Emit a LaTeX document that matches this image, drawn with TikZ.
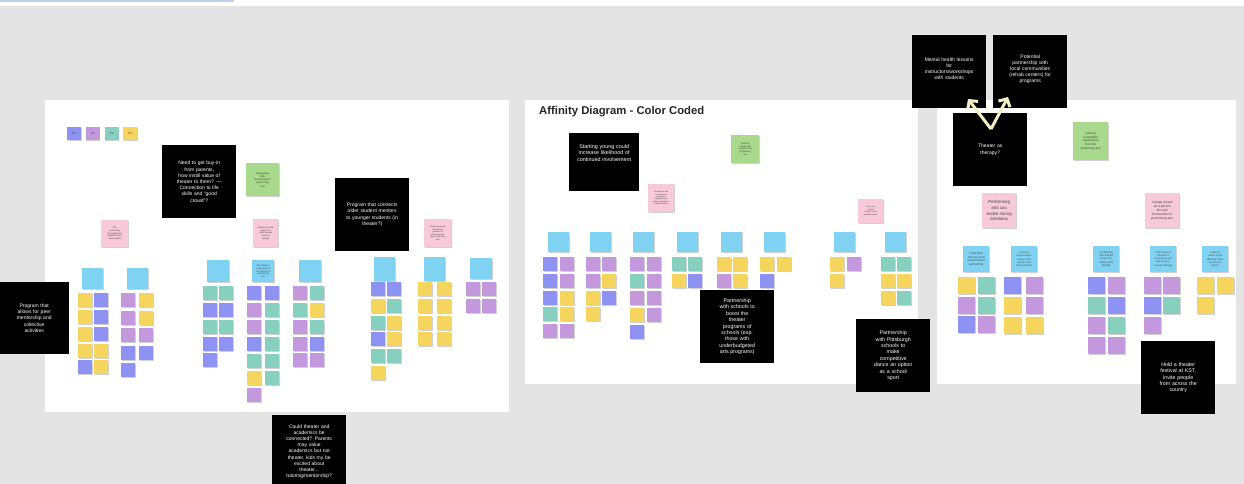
\documentclass[tikz,border=0pt]{standalone}
\usepackage{fontspec}
\setmainfont{Liberation Sans}
\usetikzlibrary{arrows.meta,shadows}
\definecolor{bg}{HTML}{E4E4E4}
\definecolor{topbar}{HTML}{BFD0F2}
\definecolor{cB}{HTML}{8E93F3}
\definecolor{cP}{HTML}{C398DC}
\definecolor{cT}{HTML}{87D0C0}
\definecolor{cY}{HTML}{F5D55E}
\definecolor{cH}{HTML}{80D2F2}
\definecolor{cK}{HTML}{F8C9D9}
\definecolor{cG}{HTML}{A8D98C}
\definecolor{cream}{HTML}{F4EFC4}
\tikzset{
  blk/.style={fill=black, text=white, anchor=north west, inner sep=2pt, align=center,
    minimum width=74pt, minimum height=73pt, text width=66pt,
    font=\fontsize{5}{6.2}\selectfont},
  stk/.style={anchor=north west, inner sep=0pt, draw=none,
    drop shadow={shadow xshift=0.4pt, shadow yshift=-1pt, opacity=0.18, fill=black}},
  hdr/.style={stk, fill=cH, align=center, text=black!70, font=\fontsize{2.4}{2.9}\selectfont},
  note/.style={stk, align=center, text=black!75, font=\fontsize{2.6}{3.2}\selectfont},
  arr/.style={draw=cream, line width=3pt, -{Straight Barb[length=6pt,width=13pt]}},
}
\newcommand\stcol[6][14]{%
  \foreach \cc [count=\ii] in {#6} {%
    \node[stk, minimum width=#1pt, minimum height=#1pt, fill=c\cc] (#2-\ii) at (#3,{#4+(\ii-1)*#5}) {};}}
\begin{document}
\begin{tikzpicture}[x=1pt,y=-1pt]
\useasboundingbox (0,0) rectangle (1244,484);
\fill[bg] (0,0) rectangle (1244,484);
\fill[white] (0,0) rectangle (1244,6);
\fill[topbar] (0,0) rectangle (234,2);
% panels
\fill[white] (45,100) rectangle (509,412);
\fill[white] (525,100) rectangle (918,384);
\fill[white] (937,100) rectangle (1236,384);

% legend
\foreach \cc/\t [count=\ii] in {B/P1,P/P2,T/P3,Y/P4}
  \node[note, fill=c\cc, minimum width=14pt, minimum height=13pt, font=\fontsize{3}{3.5}\selectfont] (leg\ii) at ({67+(\ii-1)*18.7},127) {\t};

% ---------- left panel ----------
\node[note, fill=cG, minimum width=33pt, minimum height=33pt] (gL) at (246,163) {Supporting\\kids\\involvement in\\performing\\arts};
\node[note, fill=cK, minimum width=27pt, minimum height=27pt, font=\fontsize{2.2}{2.7}\selectfont] (pkA) at (101,220) {The\\performing\\arts helped me\\establish many\\relationships};
\node[note, fill=cK, minimum width=25pt, minimum height=28pt, font=\fontsize{2.2}{2.7}\selectfont] (pkD) at (253,219) {Depends on the\\support of\\many people\\over my\\journey};
\node[note, fill=cK, minimum width=27pt, minimum height=28pt, font=\fontsize{2}{2.5}\selectfont] (pkG) at (424,219) {I think that people\\in leadership\\positions in\\performing arts\\play an important\\role};

\node[hdr, minimum width=21pt, minimum height=21pt] (hA) at (82,268) {};
\stcol{a1}{78}{293}{16.8}{Y,Y,Y,Y,B}
\stcol{a2}{94}{293}{16.8}{B,B,B,Y,Y}
\node[hdr, minimum width=21pt, minimum height=21pt] (hB) at (127,268) {};
\stcol{b1}{121}{293}{17.5}{P,P,P,B,B}
\stcol{b2}{139}{293}{17.5}{Y,Y,P,B}
\node[hdr, minimum width=22pt, minimum height=22pt] (hC) at (207,260) {};
\stcol{c1}{203}{286}{16.8}{T,B,T,B,B}
\stcol{c2}{219}{286}{16.8}{T,B,T,B}
\node[hdr, minimum width=22pt, minimum height=22pt] (hD) at (252,260) {My family is\\supportive of\\my interest in\\performing\\arts};
\stcol{d1}{247}{286}{17}{B,P,P,B,T,Y,P}
\stcol{d2}{265}{286}{17}{B,T,T,T,T,T}
\node[hdr, minimum width=22pt, minimum height=22pt] (hE) at (299,260) {};
\stcol{e1}{293}{286}{16.8}{P,T,P,P,P}
\stcol{e2}{310}{286}{16.8}{T,Y,T,B,P}
\node[hdr, minimum width=21pt, minimum height=24pt] (hF) at (374,257) {};
\stcol{f1}{371}{282}{16.7}{B,Y,T,B,T,Y}
\stcol{f2}{387}{282}{16.7}{B,T,Y,Y,T}
\node[hdr, minimum width=21pt, minimum height=24pt] (hG) at (424,257) {};
\stcol{g1}{418}{282}{16.7}{Y,Y,Y,Y}
\stcol{g2}{437}{282}{16.7}{Y,Y,Y,Y}
\node[hdr, minimum width=22pt, minimum height=21pt] (hH) at (470,258) {};
\stcol{h1}{466}{282}{16.7}{P,P}
\stcol{h2}{482}{282}{16.7}{P,P}

\node[blk] (buyin) at (162,145) {Need to get buy-in\\from parents,\\how instill value of\\theater to them? —\\Connection to life\\skills and “good\\crowd”?};
\node[blk] (olderm) at (335,178) {Program that connects\\older student mentors\\to younger students (in\\theater?)};
\node[blk, minimum width=70pt, minimum height=72pt] (peer) at (-1,282) {Program that\\allows for peer\\mentorship and\\collective\\activities};
\node[blk] (acad) at (272,415) {Could theater and\\academics be\\connected? Parents\\may value\\academics but not\\theater, kids my be\\excited about\\theater...\\tutoring/mentorship?};

% ---------- middle panel ----------
\node[anchor=west, font=\fontsize{11.3}{13}\selectfont\bfseries, text=black!85, inner sep=0pt] (title) at (539,112) {Affinity Diagram - Color Coded};
\node[blk, minimum width=64pt, minimum height=58pt, font=\fontsize{5.4}{6.3}\selectfont] (young) at (569,133) {Starting young could\\increase likelihood of\\continued involvement\\~\\~\\~};
\node[note, fill=cG, minimum width=28pt, minimum height=28pt, font=\fontsize{2.3}{2.9}\selectfont] (gM) at (731,135) {Interests\\inside and\\outside of the\\performing\\arts};
\node[note, fill=cK, minimum width=26pt, minimum height=28pt, font=\fontsize{1.9}{2.4}\selectfont] (pkM1) at (648,184) {My interests can\\be influenced\\positively or\\negatively by a\\variety of outside or\\personal factors};
\node[note, fill=cK, minimum width=25pt, minimum height=24pt, font=\fontsize{2}{2.5}\selectfont] (pkM2) at (858,199) {There is a\\myriad\\number of the\\performing arts};

\foreach \hx [count=\ii] in {548,590,633,677,721,764,834,885}
  \node[hdr, minimum width=21pt, minimum height=20pt] (hM\ii) at (\hx,232) {};
\stcol{m1a}{543}{257}{16.7}{B,B,B,T,P}
\stcol{m1b}{560}{257}{16.7}{P,P,Y,Y,P}
\stcol{m2a}{586}{257}{16.7}{P,P,Y,Y}
\stcol{m2b}{602}{257}{16.7}{P,Y,B}
\stcol{m3a}{630}{257}{17}{P,T,P,Y,B}
\stcol{m3b}{647}{257}{17}{P,P,P,P}
\stcol{m4a}{672}{257}{17}{T,Y}
\stcol{m4b}{688}{257}{17}{T,B}
\stcol{m5a}{717}{257}{17}{Y,P}
\stcol{m5b}{733}{257}{17}{Y,Y}
\stcol{m6a}{760}{257}{17}{Y,B}
\stcol{m6b}{777}{257}{17}{Y}
\stcol{m7a}{830}{257}{17}{Y,Y}
\stcol{m7b}{847}{257}{17}{P}
\stcol{m8a}{881}{257}{17}{T,Y,Y}
\stcol{m8b}{897}{257}{17}{T,Y,T}

\node[blk, font=\fontsize{5.3}{6.4}\selectfont] (schools) at (700,290) {Partnership\\with schools to\\boost the\\theater\\programs of\\schools (esp.\\those with\\underbudgeted\\arts programs)};
\node[blk, font=\fontsize{5.3}{6.4}\selectfont] (pitt) at (856,319) {Partnership\\with Pittsburgh\\schools to\\make\\competitive\\dance an option\\as a school\\sport};

% ---------- right panel ----------
\node[note, fill=cG, minimum width=35pt, minimum height=38pt, font=\fontsize{2.9}{3.6}\selectfont] (gR) at (1073,122) {Gaining\\meaningful\\experiences\\from the\\performing arts};
\node[note, fill=cK, minimum width=34pt, minimum height=35pt, font=\fontsize{4.4}{5.6}\selectfont] (pkR1) at (982,193) {Performing\\arts can\\evoke strong\\emotions};
\node[note, fill=cK, minimum width=34pt, minimum height=35pt, font=\fontsize{3.2}{4.2}\selectfont] (pkR2) at (1145,193) {I shape myself\\as a person\\through\\involvement in\\performing arts};

\node[hdr, minimum width=26pt, minimum height=26pt, font=\fontsize{3}{3.7}\selectfont] (hR1) at (963,246) {I feel both\\nervous and\\excited about\\performing};
\node[hdr, minimum width=26pt, minimum height=26pt, font=\fontsize{2.5}{3.2}\selectfont] (hR2) at (1011,246) {I feel like\\theater/dance\\evokes more\\passion than\\other activities};
\node[hdr, minimum width=26pt, minimum height=26pt, font=\fontsize{2.7}{3.4}\selectfont] (hR3) at (1093,246) {Performing\\arts helped\\shape my\\values and\\identity};
\node[hdr, minimum width=26pt, minimum height=26pt, font=\fontsize{2.4}{3.1}\selectfont] (hR4) at (1150,246) {Performing has\\allowed me\\experiences and\\skills that are\\valuable offstage};
\node[hdr, minimum width=26pt, minimum height=26pt, font=\fontsize{2.6}{3.3}\selectfont] (hR5) at (1202,246) {I feel it's\\easier to be\\different when\\involved in\\dance};
\stcol[17]{r1a}{958}{277}{19.5}{Y,P,B}
\stcol[17]{r1b}{978}{277}{19.5}{T,T,P}
\stcol[17]{r2a}{1004}{277}{20}{B,Y,Y}
\stcol[17]{r2b}{1026}{277}{20}{P,P,Y}
\stcol[17]{r3a}{1088}{277}{20}{B,T,P,P}
\stcol[17]{r3b}{1108}{277}{20}{P,B,T,P}
\stcol[17]{r4a}{1144}{277}{20}{P,B,P}
\stcol[17]{r4b}{1163}{277}{20}{P,T}
\stcol[17]{r5a}{1197}{277}{20}{Y,Y}
\stcol[17]{r5b}{1217}{277}{20}{Y}

\node[blk] (mental) at (912,35) {Mental health lessons\\for\\instructors/workshops\\with students\\~};
\node[blk] (rehab) at (993,35) {Potential\\partnership with\\local communities\\(rehab centers) for\\programs\\~};
\node[blk] (therapy) at (953,113) {Theater as\\therapy?};
\node[blk, font=\fontsize{5.3}{6.4}\selectfont] (fest) at (1141,341) {Hold a theater\\festival at KST,\\invite people\\from across the\\country};

\coordinate (vtx) at (991,129);
\coordinate (tipL) at (968,99);
\coordinate (tipR) at (1008,97);
\draw[arr] (vtx) -- (tipL);
\draw[arr] (vtx) -- (tipR);
\end{tikzpicture}
\end{document}
